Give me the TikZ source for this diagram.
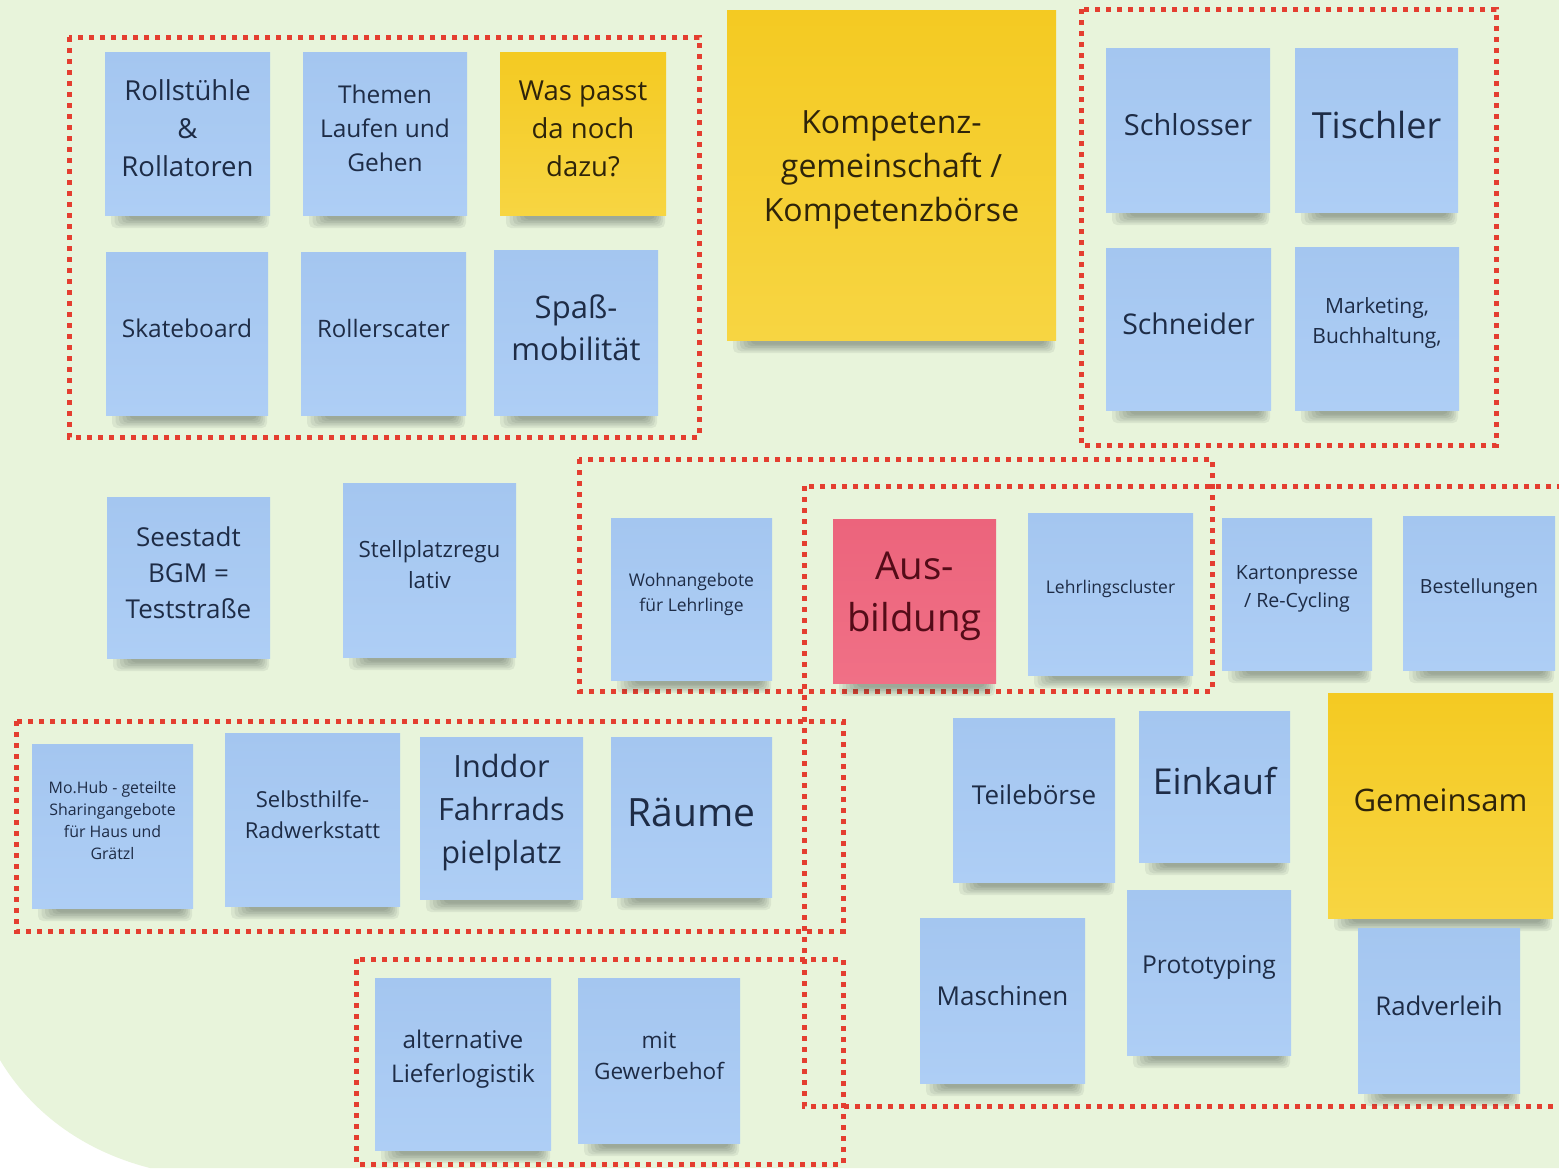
\documentclass[tikz,border=0pt]{standalone}
\usepackage{fontspec}
\setmainfont{Open Sans}
\definecolor{bggreen}{RGB}{232,244,219}
\definecolor{blueA}{RGB}{164,198,240}
\definecolor{blueB}{RGB}{174,206,245}
\definecolor{yellowA}{RGB}{244,202,34}
\definecolor{yellowB}{RGB}{247,213,66}
\definecolor{pinkA}{RGB}{236,100,124}
\definecolor{pinkB}{RGB}{240,112,134}
\definecolor{dotred}{RGB}{228,62,48}
\definecolor{navytext}{RGB}{30,44,70}
\definecolor{yellowtext}{RGB}{46,36,10}
\definecolor{pinktext}{RGB}{84,12,24}
\definecolor{shadowcol}{RGB}{40,50,45}
\tikzset{
  bluenote/.style={top color=blueA, bottom color=blueB, draw=none, inner sep=0pt},
  yellownote/.style={top color=yellowA, bottom color=yellowB, draw=none, inner sep=0pt},
  pinknote/.style={top color=pinkA, bottom color=pinkB, draw=none, inner sep=0pt},
  bluenotetext/.style={text=navytext, inner sep=0pt},
  yellownotetext/.style={text=yellowtext, inner sep=0pt},
  pinknotetext/.style={text=pinktext, inner sep=0pt},
  dotline/.style={draw=dotred, line width=5pt, dash pattern=on 5pt off 6pt},
  shadowlayer/.style={fill=shadowcol, opacity=0.075, rounded corners=5pt},
}
% name, x1, y1, x2, y2, style, fontsize, baselineskip, text
\newcommand{\stickynote}[9]{%
  \foreach \k in {0,...,5}{%
    \fill[shadowlayer] ({#2+6+3.5*\k},{#5-10}) rectangle ({#4-1-2*\k},{#5+13-1.7*\k});
  }
  \node[#6, minimum width={(#4-#2)*1pt}, minimum height={(#5-#3)*1pt}] (#1) at ({(#2+#4)/2},{(#3+#5)/2}) {};
  \node[#6text, align=center, font=\fontsize{#7}{#8}\selectfont] (#1-t) at ({(#2+#4)/2},{(#3+#5)/2-5}) {#9};
}
\begin{document}
\begin{tikzpicture}[x=1pt, y=-1pt]
\useasboundingbox (0,0) rectangle (1559,1168);
\fill[white] (0,0) rectangle (1559,1168);
\fill[bggreen] (0,0) -- (1559,0) -- (1559,1168) -- (150,1168) .. controls (80,1150) and (30,1110) .. (0,1060) -- cycle;

% dotted group frames
\draw[dotline] (69,37) rectangle (699,437);
\draw[dotline] (1081,9) rectangle (1496,445);
\draw[dotline] (579,459) rectangle (1212,691);
\draw[dotline] (804,486) rectangle (1575,1106);
\draw[dotline] (16,721) rectangle (843,931);
\draw[dotline] (356,959) rectangle (843,1164);

% notes
\stickynote{rollstuehle}{105}{52}{270}{215}{bluenote}{27.5}{38}{Rollstühle\\\&\\Rollatoren}
\stickynote{themen}{303}{52}{467}{215}{bluenote}{24.5}{34}{Themen\\Laufen und\\Gehen}
\stickynote{waspasst}{500}{52}{666}{215}{yellownote}{27.5}{38}{Was passt\\da noch\\dazu?}
\stickynote{skate}{106}{252}{268}{415}{bluenote}{24.5}{34}{Skateboard}
\stickynote{roller}{301}{252}{466}{415}{bluenote}{24}{34}{Rollerscater}
\stickynote{spass}{494}{250}{658}{415}{bluenote}{31}{42}{Spaß-\\mobilität}
\stickynote{kompetenz}{727}{10}{1056}{340}{yellownote}{32}{44}{Kompetenz-\\gemeinschaft /\\Kompetenzbörse}
\stickynote{schlosser}{1106}{48}{1270}{212}{bluenote}{29}{40}{Schlosser}
\stickynote{tischler}{1295}{48}{1458}{212}{bluenote}{36}{48}{Tischler}
\stickynote{schneider}{1106}{248}{1271}{410}{bluenote}{28.5}{40}{Schneider}
\stickynote{marketing}{1295}{247}{1459}{410}{bluenote}{21}{30}{Marketing,\\Buchhaltung,}
\stickynote{seestadt}{107}{497}{270}{658}{bluenote}{26}{36}{Seestadt\\BGM =\\Teststraße}
\stickynote{stellplatz}{343}{483}{516}{657}{bluenote}{22.4}{31}{Stellplatzregu\\lativ}
\stickynote{wohnangebote}{611}{518}{772}{680}{bluenote}{17.5}{25}{Wohnangebote\\für Lehrlinge}
\stickynote{ausbildung}{833}{519}{996}{683}{pinknote}{38.4}{52}{Aus-\\bildung}
\stickynote{lehrling}{1028}{513}{1193}{675}{bluenote}{17.5}{25}{Lehrlingscluster}
\stickynote{karton}{1222}{518}{1372}{670}{bluenote}{19.6}{28}{Kartonpresse\\/ Re-Cycling}
\stickynote{bestellungen}{1403}{516}{1555}{670}{bluenote}{19.5}{27}{Bestellungen}
\stickynote{mohub}{32}{744}{193}{908}{bluenote}{15.9}{22}{Mo.Hub - geteilte\\Sharingangebote\\für Haus und\\Grätzl}
\stickynote{selbsthilfe}{225}{733}{400}{906}{bluenote}{22}{31}{Selbsthilfe-\\Radwerkstatt}
\stickynote{inddor}{420}{737}{583}{899}{bluenote}{30.7}{43}{Inddor\\Fahrrads\\pielplatz}
\stickynote{raeume}{611}{737}{772}{897}{bluenote}{39}{52}{Räume}
\stickynote{teileboerse}{953}{718}{1115}{882}{bluenote}{26}{36}{Teilebörse}
\stickynote{einkauf}{1139}{711}{1290}{862}{bluenote}{35.7}{48}{Einkauf}
\stickynote{gemeinsam}{1328}{693}{1553}{918}{yellownote}{31}{42}{Gemeinsam}
\stickynote{liefer}{375}{978}{551}{1150}{bluenote}{24.3}{34}{alternative\\Lieferlogistik}
\stickynote{gewerbehof}{578}{978}{740}{1143}{bluenote}{22.6}{31}{mit\\Gewerbehof}
\stickynote{maschinen}{920}{918}{1085}{1083}{bluenote}{26}{36}{Maschinen}
\stickynote{prototyping}{1127}{890}{1291}{1055}{bluenote}{24.6}{34}{Prototyping}
\stickynote{radverleih}{1358}{928}{1520}{1093}{bluenote}{25.8}{36}{Radverleih}
\end{tikzpicture}
\end{document}
